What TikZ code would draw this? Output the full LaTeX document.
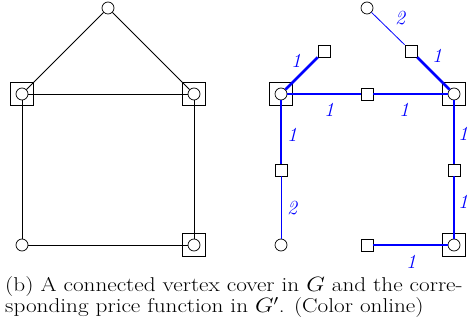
\documentclass[tikz,border=0pt]{standalone}
\begin{document}
\begin{tikzpicture}[x=1pt,y=-1pt,
  vtx/.style={circle,draw,fill=white,inner sep=0pt,minimum size=12pt,line width=0.7pt},
  sub/.style={rectangle,draw,fill=white,inner sep=0pt,minimum size=12pt,line width=0.7pt},
  cover/.style={rectangle,draw,inner sep=0pt,minimum size=23pt,line width=0.7pt},
  gedge/.style={draw,line width=0.8pt},
  tight/.style={draw=blue,line width=2.8pt},
  slack/.style={draw=blue,line width=0.8pt},
  price/.style={text=blue,font=\fontsize{20}{20}\selectfont\itshape,inner sep=1pt}]
\useasboundingbox (0,0) rectangle (470,320);

% graph G
\node[cover] (cL) at (22,94) {};
\node[cover] (cR) at (194,94) {};
\node[cover] (cB) at (194,245) {};
\node[vtx] (t) at (108,8) {};
\node[vtx] (l) at (22,94) {};
\node[vtx] (r) at (194,94) {};
\node[vtx] (bl) at (22,245) {};
\node[vtx] (br) at (194,245) {};
\draw[gedge] (t) -- (l);
\draw[gedge] (t) -- (r);
\draw[gedge] (l) -- (r);
\draw[gedge] (l) -- (bl);
\draw[gedge] (r) -- (br);
\draw[gedge] (bl) -- (br);

% graph G' with prices
\node[cover] (cL2) at (281,94) {};
\node[cover] (cR2) at (454,94) {};
\node[cover] (cB2) at (454,245) {};
\node[vtx] (t2) at (367,8) {};
\node[vtx] (l2) at (281,94) {};
\node[vtx] (r2) at (454,94) {};
\node[vtx] (bl2) at (281,245) {};
\node[vtx] (br2) at (454,245) {};
\node[sub] (sTL) at (324,51) {};
\node[sub] (sTR) at (411,51) {};
\node[sub] (sM) at (367,94) {};
\node[sub] (sL) at (281,170) {};
\node[sub] (sR) at (454,170) {};
\node[sub] (sB) at (367,245) {};

\draw[slack] (t2) -- (sTR);
\draw[tight] (sTR) -- (r2);
\draw[tight] (sTL) -- (l2);
\draw[tight] (l2) -- (sM);
\draw[tight] (sM) -- (r2);
\draw[tight] (l2) -- (sL);
\draw[slack] (sL) -- (bl2);
\draw[tight] (r2) -- (sR);
\draw[tight] (sR) -- (br2);
\draw[tight] (sB) -- (br2);

\node[price] (p1) at (400,18) {2};
\node[price] (p2) at (296,61) {1};
\node[price] (p3) at (437,56) {1};
\node[price] (p4) at (329,110) {1};
\node[price] (p5) at (404,110) {1};
\node[price] (p6) at (292,135) {1};
\node[price] (p7) at (292,208) {2};
\node[price] (p8) at (463,134) {1};
\node[price] (p9) at (463,202) {1};
\node[price] (p10) at (411,262) {1};

% caption
\node[anchor=north west,align=left,inner sep=0pt,transform shape,xscale=1.16,
  font=\fontsize{20}{20}\selectfont] (cap) at (5,276)
  {(b) A connected vertex cover in $G$ and the corre-\\sponding price function in $G'$. (Color online)};
\end{tikzpicture}
\end{document}
